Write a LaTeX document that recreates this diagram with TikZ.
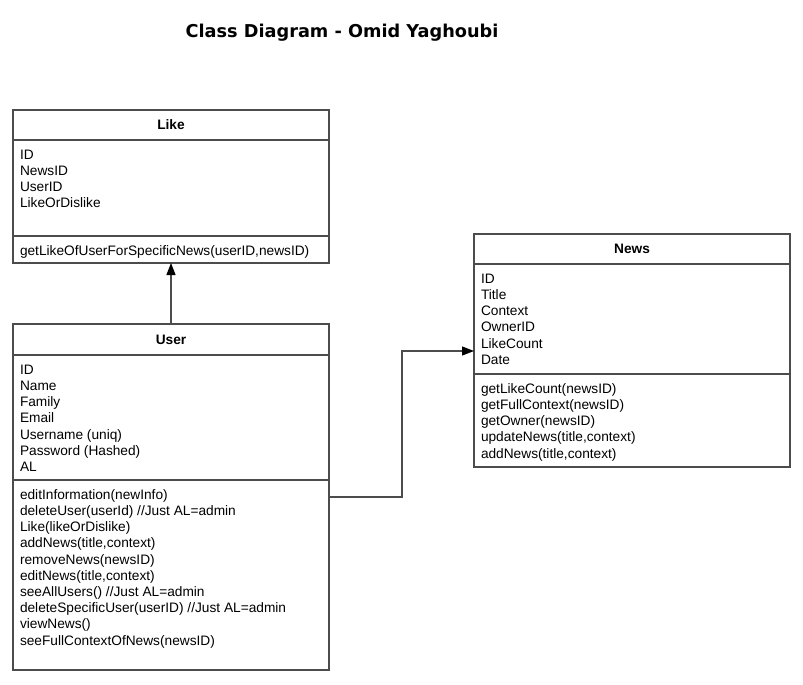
\documentclass[tikz,border=0pt]{standalone}
\usepackage{fontspec}
\setmainfont{Liberation Sans}
\newfontfamily\titlefont{DejaVu Sans}
\usetikzlibrary{positioning,arrows.meta}
\newcommand{\compart}[2]{\parbox[c][#1][t]{302pt}{\raggedright\rule{0pt}{19.2pt}#2}}

\begin{document}
\begin{tikzpicture}[x=1pt,y=-1pt,
    every node/.style={font=\fontsize{13.7}{16.2}\selectfont},
    box/.style={draw=black!70,line width=1.2pt,minimum width=316pt,inner xsep=7pt,inner ysep=0pt,outer sep=0pt,anchor=north},
    header/.style={box,font=\fontsize{13.7}{16.2}\selectfont\bfseries},
    link/.style={draw=black!70,line width=1.2pt,-{Triangle[length=12pt,width=9pt,fill=black,color=black]}}]
    \useasboundingbox (0,0) rectangle (803,685);

    \node[font=\titlefont\fontsize{17.7}{20}\selectfont\bfseries] (title) at (342,33) {Class Diagram - Omid Yaghoubi};

    \node[header,minimum height=30pt] (liketitle) at (171,110) {Like};
    \node[box,below=0pt of liketitle] (likeattr) {\compart{96pt}{ID\\NewsID\\UserID\\LikeOrDislike}};
    \node[box,below=0pt of likeattr] (likemeth) {\compart{27pt}{getLikeOfUserForSpecificNews(userID,newsID)}};

    \node[header,minimum height=31pt] (usertitle) at (171,324) {User};
    \node[box,below=0pt of usertitle] (userattr) {\compart{125pt}{ID\\Name\\Family\\Email\\Username (uniq)\\Password (Hashed)\\AL}};
    \node[box,below=0pt of userattr] (usermeth) {\compart{190pt}{editInformation(newInfo)\\deleteUser(userId) //Just AL=admin\\Like(likeOrDislike)\\addNews(title,context)\\removeNews(newsID)\\editNews(title,context)\\seeAllUsers() //Just AL=admin\\deleteSpecificUser(userID) //Just AL=admin\\viewNews()\\seeFullContextOfNews(newsID)}};

    \node[header,minimum height=30pt] (newstitle) at (632,234) {News};
    \node[box,below=0pt of newstitle] (newsattr) {\compart{110pt}{ID\\Title\\Context\\OwnerID\\LikeCount\\Date}};
    \node[box,below=0pt of newsattr] (newsmeth) {\compart{93pt}{getLikeCount(newsID)\\getFullContext(newsID)\\getOwner(newsID)\\updateNews(title,context)\\addNews(title,context)}};

    \draw[link] (usertitle) -- (likemeth);
    \draw[link] ([yshift=-17pt]usermeth.north east) -- ++(73,0) |- ([yshift=-87pt]newsattr.north west);
\end{tikzpicture}
\end{document}
